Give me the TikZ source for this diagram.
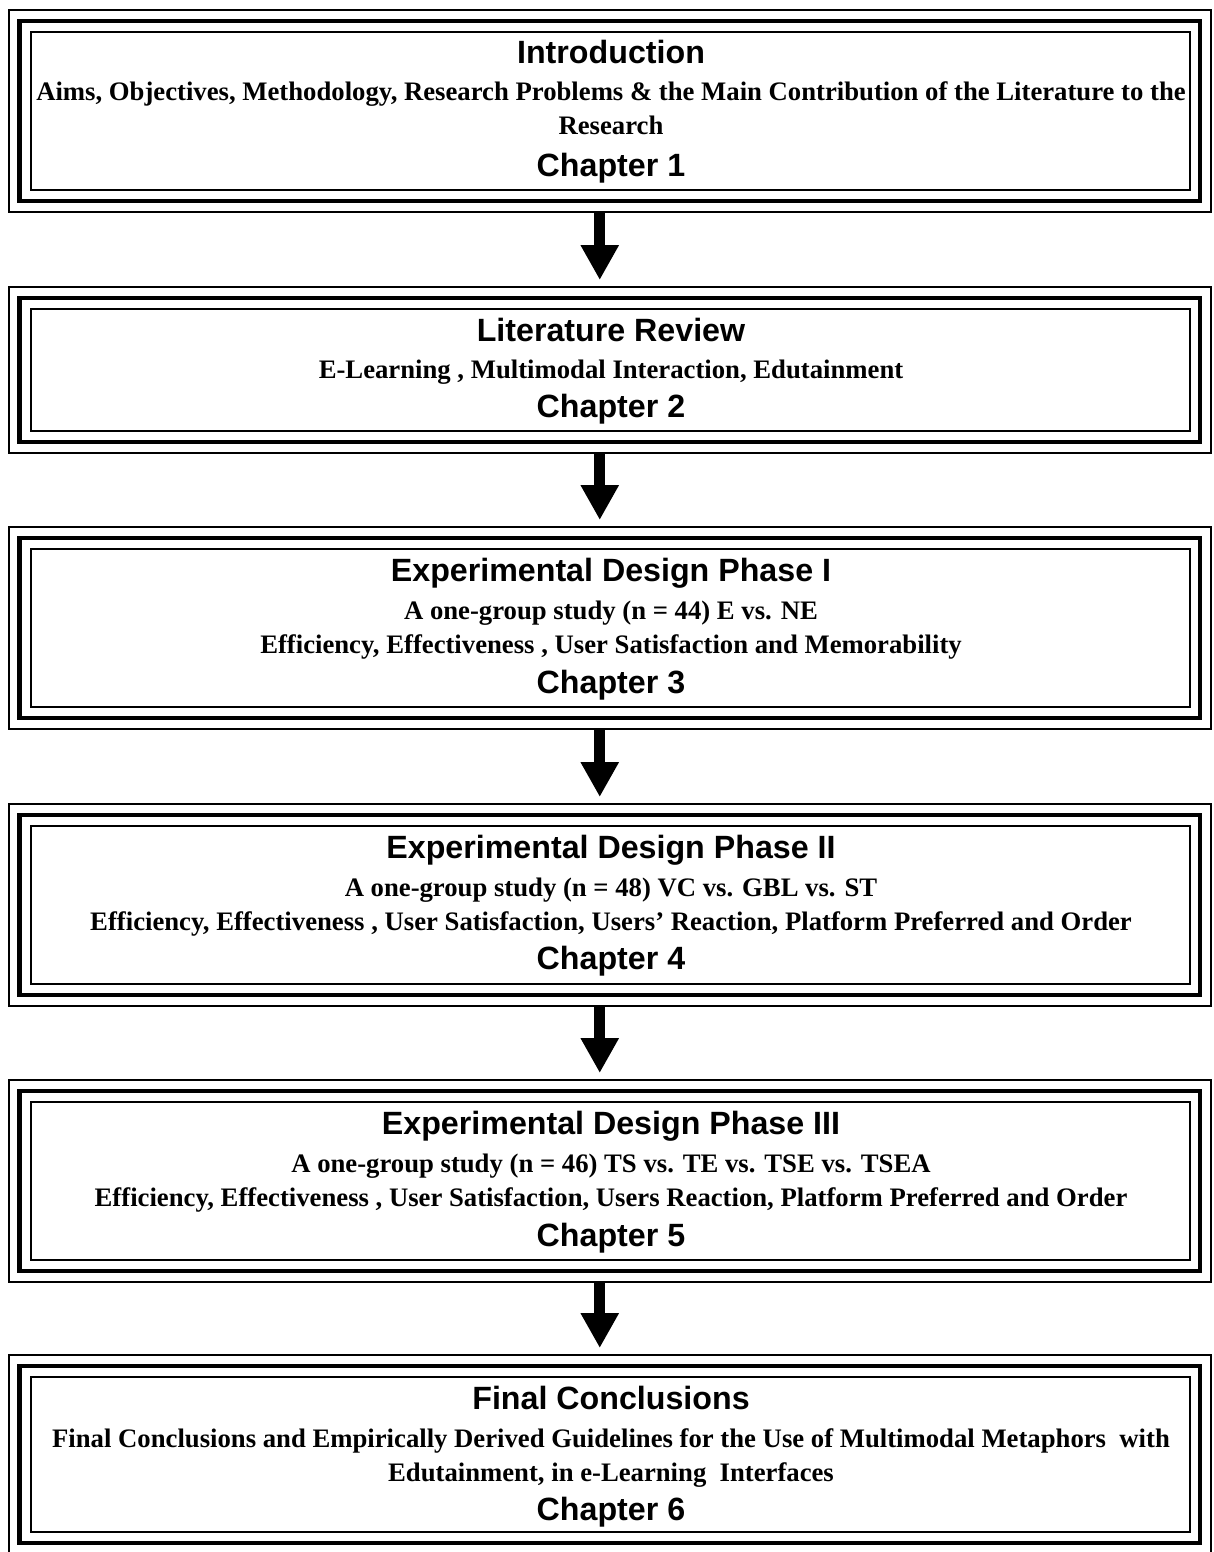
\documentclass[tikz,border=0pt]{standalone}
\usepackage{fontspec}
\setmainfont{Liberation Serif}
\newfontfamily\headfont{Liberation Sans}
\usetikzlibrary{arrows.meta}

\tikzset{
  frame/.style={draw, line width=2pt, inner sep=0pt, outer sep=0pt,
    minimum width=1202.5pt},
  headtext/.style={anchor=base, inner sep=0pt,
    font=\headfont\bfseries\fontsize{32.2}{38}\selectfont},
  bodytext/.style={anchor=base, inner sep=0pt,
    font=\bfseries\fontsize{26.7}{32}\selectfont},
  flow/.style={-{Triangle[width=36pt,length=35pt]}, line width=11pt},
}

% the two inner borders of a frame: a heavy middle line and a thin inner line
\newcommand{\innerframes}[1]{%
  \draw[line width=4.5pt] ([shift={(11pt,-11pt)}]#1.north west) rectangle ([shift={(-11pt,11pt)}]#1.south east);
  \draw[line width=2pt] ([shift={(22pt,-22pt)}]#1.north west) rectangle ([shift={(-21pt,22pt)}]#1.south east);
}

\begin{document}
\begin{tikzpicture}[x=1pt,y=-1pt]
\useasboundingbox (0,0) rectangle (1214,1552);
\fill[white] (0,0) rectangle (1214,1552);

% frames (outer borders)
\node[frame, minimum height=202pt] (b1) at (609.75,111) {};
\node[frame, minimum height=166pt] (b2) at (609.75,370) {};
\node[frame, minimum height=202pt] (b3) at (609.75,628) {};
\node[frame, minimum height=202pt] (b4) at (609.75,905) {};
\node[frame, minimum height=202pt] (b5) at (609.75,1181) {};
\node[frame, minimum height=199pt] (b6) at (609.75,1454.5) {};

\innerframes{b1}
\innerframes{b2}
\innerframes{b3}
\innerframes{b4}
\innerframes{b5}
\innerframes{b6}

% texts
\node[headtext] (t1) at (611,64) {Introduction};
\node[bodytext] (s1a) at (611,101) {Aims, Objectives, Methodology, Research Problems \& the Main Contribution of the Literature to the};
\node[bodytext] (s1b) at (611,135) {Research};
\node[headtext] (c1) at (611,176) {Chapter 1};

\node[headtext] (t2) at (611,341) {Literature Review};
\node[bodytext] (s2a) at (611,378) {E-Learning , Multimodal Interaction, Edutainment};
\node[headtext] (c2) at (611,417) {Chapter 2};

\node[headtext] (t3) at (611,581) {Experimental Design Phase I};
\node[bodytext] (s3a) at (611,619) {A one-group study (n = 44) E vs. NE};
\node[bodytext] (s3b) at (611,653) {Efficiency, Effectiveness , User Satisfaction and Memorability};
\node[headtext] (c3) at (611,693) {Chapter 3};

\node[headtext] (t4) at (611,858) {Experimental Design Phase II};
\node[bodytext] (s4a) at (611,896) {A one-group study (n = 48) VC vs. GBL vs. ST};
\node[bodytext] (s4b) at (611,930) {Efficiency, Effectiveness , User Satisfaction, Users’ Reaction, Platform Preferred and Order};
\node[headtext] (c4) at (611,969) {Chapter 4};

\node[headtext] (t5) at (611,1134) {Experimental Design Phase III};
\node[bodytext] (s5a) at (611,1172) {A one-group study (n = 46) TS vs. TE vs. TSE vs. TSEA};
\node[bodytext] (s5b) at (611,1206) {Efficiency, Effectiveness , User Satisfaction, Users Reaction, Platform Preferred and Order};
\node[headtext] (c5) at (611,1246) {Chapter 5};

\node[headtext] (t6) at (611,1409) {Final Conclusions};
\node[bodytext] (s6a) at (611,1447) {Final Conclusions and Empirically Derived Guidelines for the Use of Multimodal Metaphors\ \ with};
\node[bodytext] (s6b) at (611,1481) {Edutainment, in e-Learning\ \ Interfaces};
\node[headtext] (c6) at (611,1520) {Chapter 6};

% block arrows between the frames
\draw[flow] ([shift={(-10pt,-1pt)}]b1.south) -- ([shift={(-10pt,7pt)}]b2.north);
\draw[flow] ([shift={(-10pt,-1pt)}]b2.south) -- ([shift={(-10pt,7pt)}]b3.north);
\draw[flow] ([shift={(-10pt,-1pt)}]b3.south) -- ([shift={(-10pt,7pt)}]b4.north);
\draw[flow] ([shift={(-10pt,-1pt)}]b4.south) -- ([shift={(-10pt,7pt)}]b5.north);
\draw[flow] ([shift={(-10pt,-1pt)}]b5.south) -- ([shift={(-10pt,7pt)}]b6.north);
\end{tikzpicture}
\end{document}
